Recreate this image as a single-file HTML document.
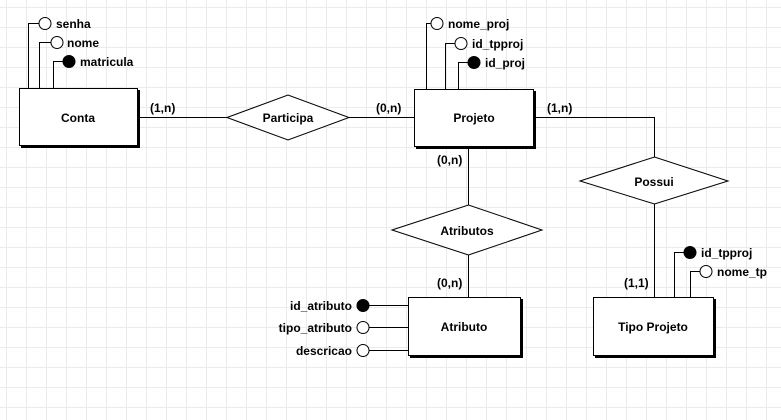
<!DOCTYPE html>
<html><head><meta charset="utf-8"><style>
html,body{margin:0;padding:0;background:#fff;}
svg{display:block;}
text{font-family:"Liberation Sans",Arial,sans-serif;font-weight:bold;font-size:12px;fill:#000;}
</style></head><body>
<svg width="781" height="420" xmlns="http://www.w3.org/2000/svg">
<defs>
<pattern id="g" x="6" y="7" width="20" height="20" patternUnits="userSpaceOnUse">
<path d="M0 0.5H20M0.5 0V20" stroke="#ebebeb" stroke-width="1" fill="none"/>
</pattern>
</defs>
<rect width="781" height="420" fill="url(#g)"/>
<g stroke="#000" stroke-width="1" fill="none">
<!-- Conta attrs -->
<path d="M28.5 88V23.5H39M39.5 88V42.5H51M53.5 88V61.5H63"/>
<!-- Projeto attrs -->
<path d="M426.5 89V23.5H431M445.5 89V43.5H455M458.5 89V62.5H468"/>
<!-- Tipo projeto attrs -->
<path d="M674.5 297V252.5H684M690.5 297V271.5H700"/>
<!-- Atributo attrs -->
<path d="M369 305.5H408M369 327.5H408M369 350.5H408"/>
<!-- relations -->
<path d="M140 117.5H227M349 117.5H414M536 117.5H654.5V157M654.5 204V297M468.5 148V205M468.5 255V297"/>
</g>
<!-- shadows & boxes -->
<g fill="#000">
<rect x="21" y="90" width="119" height="58"/>
<rect x="416" y="91" width="120" height="58"/>
<rect x="410" y="299" width="113" height="59"/>
<rect x="595" y="299" width="121" height="59"/>
</g>
<g fill="#fff" stroke="#000">
<rect x="19.5" y="88.5" width="118" height="57"/>
<rect x="414.5" y="89.5" width="119" height="57"/>
<rect x="408.5" y="297.5" width="112" height="58"/>
<rect x="593.5" y="297.5" width="120" height="58"/>
<polygon points="227,117.5 288,95 349,117.5 288,140"/>
<polygon points="580,181 654.5,157 728,181 654.5,204"/>
<polygon points="392,230 468.5,205 542,230 468.5,255"/>
</g>
<g stroke="#000" fill="#fff">
<circle cx="45" cy="23.5" r="6"/>
<circle cx="57" cy="42.5" r="6"/>
<circle cx="69" cy="61.5" r="6" fill="#000"/>
<circle cx="437" cy="23.5" r="6"/>
<circle cx="461" cy="43.5" r="6"/>
<circle cx="474" cy="62.5" r="6" fill="#000"/>
<circle cx="690" cy="252.5" r="6" fill="#000"/>
<circle cx="706" cy="271.5" r="6"/>
<circle cx="363" cy="305.5" r="6" fill="#000"/>
<circle cx="363" cy="327.5" r="6"/>
<circle cx="363" cy="350.5" r="6"/>
</g>
<text x="56" y="28">senha</text>
<text x="67" y="47">nome</text>
<text x="80" y="66">matricula</text>
<text x="448" y="28">nome_proj</text>
<text x="472" y="48">id_tpproj</text>
<text x="485" y="67">id_proj</text>
<text x="701" y="257">id_tpproj</text>
<text x="717" y="276">nome_tp</text>
<text x="352" y="310" text-anchor="end">id_atributo</text>
<text x="352" y="332" text-anchor="end">tipo_atributo</text>
<text x="352" y="355" text-anchor="end">descricao</text>
<text x="78" y="122" text-anchor="middle">Conta</text>
<text x="474" y="122" text-anchor="middle">Projeto</text>
<text x="464" y="331" text-anchor="middle">Atributo</text>
<text x="653" y="331" text-anchor="middle">Tipo Projeto</text>
<text x="288" y="122" text-anchor="middle">Participa</text>
<text x="654" y="186" text-anchor="middle">Possui</text>
<text x="467" y="235" text-anchor="middle">Atributos</text>
<text x="150" y="112">(1,n)</text>
<text x="376" y="112">(0,n)</text>
<text x="547" y="112">(1,n)</text>
<text x="437" y="164">(0,n)</text>
<text x="437" y="287">(0,n)</text>
<text x="624" y="287">(1,1)</text>
</svg>
</body></html>
